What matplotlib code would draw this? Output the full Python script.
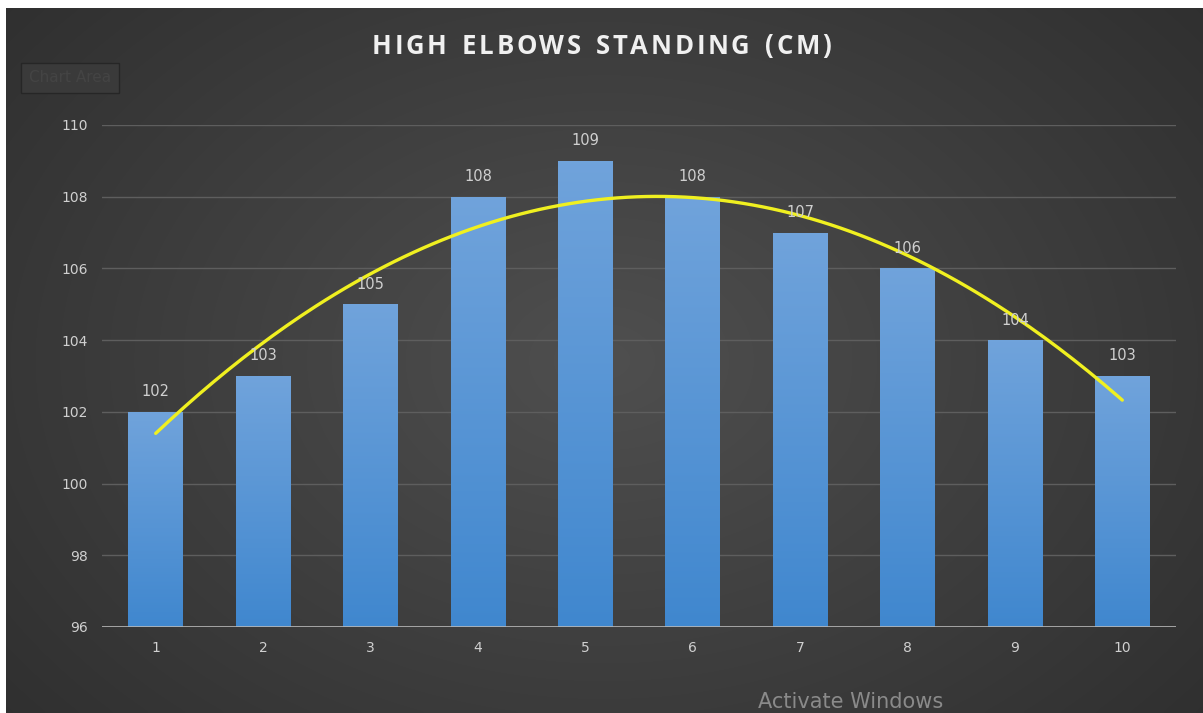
import numpy as np
import matplotlib
matplotlib.use("Agg")
import matplotlib.pyplot as plt
from matplotlib.patches import Rectangle

# ---- data ----
categories = [1, 2, 3, 4, 5, 6, 7, 8, 9, 10]
values = [102, 103, 105, 108, 109, 108, 107, 106, 104, 103]
y_ticks = [96, 98, 100, 102, 104, 106, 108, 110]
title = "HIGH ELBOWS STANDING (CM)"

W, H = 1203, 713
fig = plt.figure(figsize=(W / 100, H / 100), dpi=100, facecolor="white")

# ---- dark radial-gradient background (screenshot chart area) ----
bg = fig.add_axes([6 / W, 0, 1 - 6 / W, 1 - 8 / H])
bg.set_axis_off()
gx, gy = np.meshgrid(np.linspace(-1, 1, 400), np.linspace(-1, 1, 240))
r = np.sqrt(gx ** 2 * 0.9 + gy ** 2 * 0.6)
lum = 0.31 - 0.13 * np.clip(r, 0, 1.3) / 1.3
bg.imshow(np.dstack([lum, lum, lum]), aspect="auto", extent=[0, 1, 0, 1],
          interpolation="bicubic")
bg.set_xlim(0, 1)
bg.set_ylim(0, 1)

# ---- main axes ----
ax = fig.add_axes([102 / W, 1 - 627 / H, (1176 - 102) / W, (627 - 125) / H])
ax.patch.set_alpha(0)

for yt in y_ticks[1:]:
    ax.axhline(yt, color="#5e5e5e", lw=1.0, zorder=0)
ax.axhline(96, color="#b8b8b8", lw=1.2, zorder=3)

bw = 0.51
grad = np.linspace(0, 1, 256).reshape(-1, 1)
top_c = np.array([0.44, 0.64, 0.86])
bot_c = np.array([0.25, 0.53, 0.81])
gimg = bot_c[None, None, :] * (1 - grad[:, :, None]) + top_c[None, None, :] * grad[:, :, None]
for x, v in zip(categories, values):
    rect = Rectangle((x - bw / 2, 96), bw, v - 96, facecolor="none", edgecolor="none")
    ax.add_patch(rect)
    im = ax.imshow(gimg, extent=[x - bw / 2, x + bw / 2, 96, v], origin="lower",
                   aspect="auto", zorder=2)
    im.set_clip_path(rect)
    ax.text(x, v + 0.35, str(v), ha="center", va="bottom", color="#d0d0d0",
            fontsize=10.5, zorder=5)

ax.set_aspect("auto")
ax.set_xlim(0.5, 10.5)
ax.set_ylim(96, 110)

# polynomial (order 2) trendline fitted to the data
coef = np.polyfit(categories, values, 2)
xs = np.linspace(categories[0], categories[-1], 200)
ax.plot(xs, np.polyval(coef, xs), color="#f0f020", lw=2.4, zorder=4,
        solid_capstyle="round")

ax.set_xticks(categories)
ax.set_xticklabels([str(c) for c in categories])
ax.set_yticks(y_ticks)
ax.tick_params(colors="#d0d0d0", labelsize=10, length=0, pad=10)
for s in ax.spines.values():
    s.set_visible(False)

# ---- letter-spaced title ----
fig.canvas.draw()
renderer = fig.canvas.get_renderer()
fs = 18.5
spacing = 2.6  # px between letters
widths = []
for ch in title:
    t = fig.text(0, 0, ch if ch != " " else "n", fontsize=fs, fontweight="bold",
                 family="Open Sans")
    w = t.get_window_extent(renderer).width
    if ch == " ":
        w *= 0.6
    widths.append(w)
    t.remove()
total = sum(widths) + spacing * (len(title) - 1)
xpos = W / 2 - total / 2
ypix = H - 46
for ch, w in zip(title, widths):
    if ch != " ":
        fig.text(xpos / W, ypix / H, ch, ha="left", va="center", color="#f0f0f0",
                 fontsize=fs, fontweight="bold", family="Open Sans")
    xpos += w + spacing

# ---- screenshot artefacts ----
fig.text(70 / W, 1 - 78 / H, "Chart Area", ha="center", va="center",
         color="#444444", fontsize=11,
         bbox=dict(boxstyle="square,pad=0.5", fc="#3a3a3a", ec="#262626"))
fig.text(758 / W, 0.002, "Activate Windows", ha="left", va="bottom",
         color="#8a8a8a", fontsize=15)

fig.savefig("out.png", dpi=100, facecolor="white")
